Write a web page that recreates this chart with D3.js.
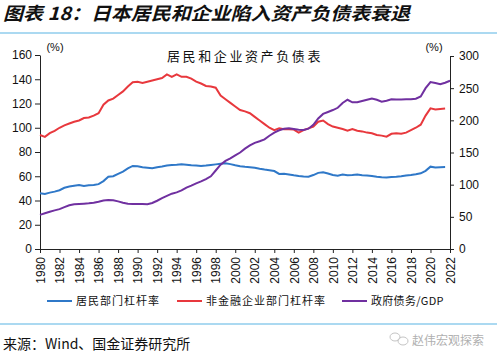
<!DOCTYPE html>
<html><head><meta charset="utf-8">
<script src="https://cdn.jsdelivr.net/npm/d3@7/dist/d3.min.js"></script>
<style>
body{margin:0;background:#fff;}
svg{display:block;}
</style></head>
<body>
<svg id="c" width="500" height="360"></svg>
<script>
const times = d3.range(1980, 2022.001, 0.5);
const household = [46,45.3,46.5,47.3,48.5,50.5,51.5,52.2,52.8,52,52.5,52.8,53.5,56,59.6,60,62,63.8,66.5,68.5,68.2,67.4,67,66.6,67.5,68,68.8,69.3,69.5,69.8,69.5,69,68.8,68.4,68.8,69.3,69.8,70.3,70.7,70,69,68.2,67.8,67.5,67,66.2,65.5,65,64.3,61.9,62,61.5,60.8,60.2,59.8,59.6,61,62.8,63.3,62.3,61,60.5,61.4,60.8,61,61.4,60.8,60.6,60.2,59.6,59.2,59,59.3,59.6,60,60.6,61,61.6,62.4,64.5,67.9,67.3,67.5,67.6,null];
const corporate = [94,92.5,95.5,97.5,100,102,103.5,105,106,108,108.5,110,112,119,122.5,124,127,130,134,137.5,138,137,138,139,140,141,144,142,144,142,142,140.5,138,136.5,134.5,134,133,126.5,123.5,120.5,117.5,114.6,113.5,112,109,106,103,100,98,99.5,98.7,98.7,98.5,96,98,99.5,101,105,106,103,101,100,99,97.6,99,97.6,97,96,95.4,94,93.5,92.6,95,95.4,95,96,98,100,102.5,110,116,115,115.5,115.8,null];
const government = [53,55.5,58,60,62,65,68,69.5,70,70.5,71,72,73.5,75.5,76.2,75.8,74,72,70.5,70,70,69.8,69.5,71.5,75,79,82.5,86,88,91,95.5,98.5,102,105,108.5,113,122,131,137,141,145.5,150,156,161,165,167.5,170.5,176,181,184.5,187,187.5,186.5,185.5,185,187,193,203,210,213,216,219.5,227,232,228,228,230,232,234,232,229,230.5,232.6,232.5,232.5,232.6,232.8,233.5,237,250,259.5,258,256,258.5,261.5];
const leftTicks = [0,20,40,60,80,100,120,140,160];
const rightTicks = [0,50,100,150,200,250,300];
const yearTicks = d3.range(1980, 2023, 2);
const seriesNames = ["居民部门杠杆率","非金融企业部门杠杆率","政府债务/GDP"];
const colors = ["#2f78c8","#e8383d","#7030a0"];

const svg = d3.select("#c");
const sans = "Liberation Sans, Arial, sans-serif";
const cjk = "'Noto Sans CJK SC', sans-serif";

// Title
svg.append("text").attr("x",3).attr("y",20)
  .attr("font-family",cjk).attr("font-weight","bold").attr("font-style","italic")
  .attr("font-size",18).attr("fill","#111")
  .attr("textLength",407).attr("lengthAdjust","spacingAndGlyphs")
  .text("图表 18：日本居民和企业陷入资产负债表衰退");
svg.append("line").attr("x1",0).attr("x2",497).attr("y1",33).attr("y2",33)
  .attr("stroke","#8fcdec").attr("stroke-width",1.5);
svg.append("line").attr("x1",0).attr("x2",497).attr("y1",324).attr("y2",324)
  .attr("stroke","#8fcdec").attr("stroke-width",1.5);

const x = d3.scaleLinear().domain([1980,2022]).range([40,450]);
const yL = d3.scaleLinear().domain([0,160]).range([249,55]);
const yR = d3.scaleLinear().domain([0,300]).range([249,56]);

// axes
const axL = svg.append("g").attr("transform","translate(40,0)")
  .call(d3.axisLeft(yL).tickValues(leftTicks).tickSize(5).tickSizeOuter(0));
const axR = svg.append("g").attr("transform","translate(450,0)")
  .call(d3.axisRight(yR).tickValues(rightTicks).tickSize(4).tickSizeOuter(0));
const axB = svg.append("g").attr("transform","translate(0,249)")
  .call(d3.axisBottom(x).tickValues(yearTicks).tickFormat(d3.format("d")).tickSize(4).tickSizeOuter(0));
[axL,axR,axB].forEach(a=>{
  a.selectAll("path").attr("stroke","#222");
  a.selectAll("line").attr("stroke","#222");
  a.selectAll("text").attr("font-family",sans).attr("font-size",12).attr("fill","#111");
});
axL.selectAll("text").attr("x",-8);
axR.selectAll("text").attr("x",9);
axB.selectAll("text")
  .attr("transform","rotate(-90)")
  .attr("text-anchor","end").attr("x",-8).attr("y",0).attr("dy","0.35em");

svg.append("text").attr("x",55).attr("y",51).attr("text-anchor","middle")
  .attr("font-family",sans).attr("font-size",11).attr("fill","#111").text("(%)");
svg.append("text").attr("x",434).attr("y",51).attr("text-anchor","middle")
  .attr("font-family",sans).attr("font-size",11).attr("fill","#111").text("(%)");

svg.append("text").attr("x",245).attr("y",61).attr("text-anchor","middle")
  .attr("font-family",cjk).attr("font-size",13).attr("fill","#111")
  .attr("letter-spacing",2.6).text("居民和企业资产负债表");

// lines
const lineL = d3.line().defined(d=>d[1]!=null).x(d=>x(d[0])).y(d=>yL(d[1]));
const lineR = d3.line().defined(d=>d[1]!=null).x(d=>x(d[0])).y(d=>yR(d[1]));
svg.append("path").datum(times.map((t,i)=>[t,corporate[i]]))
  .attr("d",lineL).attr("fill","none").attr("stroke",colors[1]).attr("stroke-width",2);
svg.append("path").datum(times.map((t,i)=>[t,household[i]]))
  .attr("d",lineL).attr("fill","none").attr("stroke",colors[0]).attr("stroke-width",2);
svg.append("path").datum(times.map((t,i)=>[t,government[i]]))
  .attr("d",lineR).attr("fill","none").attr("stroke",colors[2]).attr("stroke-width",2);

// legend
const legX = [47,177,342];
seriesNames.forEach((n,i)=>{
  svg.append("line").attr("x1",legX[i]).attr("x2",legX[i]+25).attr("y1",301).attr("y2",301)
    .attr("stroke",colors[i]).attr("stroke-width",2);
  svg.append("text").attr("x",legX[i]+29).attr("y",305)
    .attr("font-family",cjk).attr("font-size",11).attr("fill","#111")
    .attr("letter-spacing",i==2?0.3:1).text(n);
});

// source
svg.append("text").attr("x",3).attr("y",349)
  .attr("font-family",cjk).attr("font-size",14).attr("fill","#111")
  .text("来源：Wind、国金证券研究所");
// watermark
const wm = svg.append("g").attr("fill","none").attr("stroke","#c4c4c4").attr("stroke-width",1);
wm.append("ellipse").attr("cx",395).attr("cy",337).attr("rx",5).attr("ry",4);
wm.append("ellipse").attr("cx",403).attr("cy",341).attr("rx",5).attr("ry",4);
svg.append("text").attr("x",412).attr("y",345)
  .attr("font-family",cjk).attr("font-size",12).attr("fill","#b0b0b0")
  .text("赵伟宏观探索");
</script>
</body></html>
